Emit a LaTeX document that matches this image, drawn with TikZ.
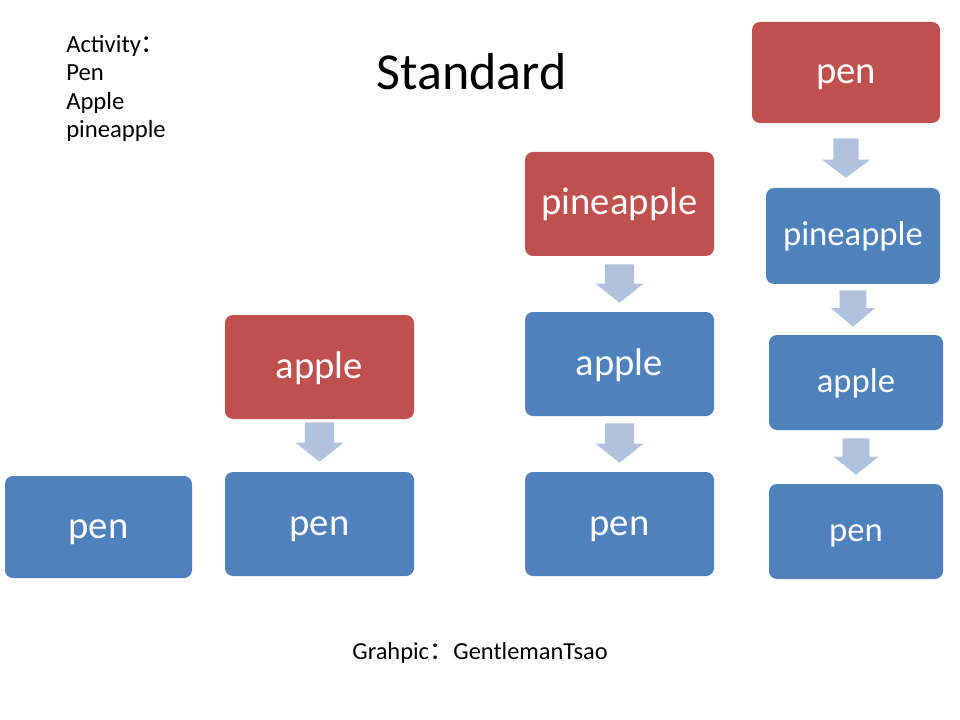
\documentclass[tikz,border=0pt]{standalone}
\usepackage{fontspec}
\setmainfont{Carlito}
\newfontfamily\cjk{Noto Sans CJK SC}
\usetikzlibrary{calc}
\definecolor{redbox}{HTML}{C0504D}
\definecolor{bluebox}{HTML}{4F81BD}
\definecolor{arrowc}{HTML}{B1C2DE}
\tikzset{
  box/.style={rectangle, rounded corners=6pt, inner sep=0pt, text=white,
    font=\fontsize{29}{34}\selectfont, text height=23.5pt, text depth=7pt},
  redb/.style={box, fill=redbox},
  blueb/.style={box, fill=bluebox},
  smalltext/.style={font=\fontsize{26}{30}\selectfont, text height=20.5pt, text depth=6.2pt},
  wideb/.style={minimum width=141.75pt, minimum height=78pt},
  lbl/.style={inner sep=0pt, anchor=base west, font=\fontsize{18.5}{21}\selectfont}
}
% from, to, gap top, gap bottom, shaft half width, head half width, head length
\newcommand\blockarr[7]{%
  \fill[arrowc] let \p1=($(#1.south)+(0pt,-#3)$), \p2=($(#2.north)+(0pt,#4)$) in
    (\x1-#5,\y1) -- (\x1+#5,\y1) -- (\x1+#5,\y2+#7) -- (\x1+#6,\y2+#7) --
    (\x1,\y2) -- (\x1-#6,\y2+#7) -- (\x1-#5,\y2+#7) -- cycle;}
\begin{document}
\begin{tikzpicture}[x=0.75pt,y=-0.75pt]
\useasboundingbox (0,0) rectangle (960,720);
\fill[white] (0,0) rectangle (960,720);

% texts
\node[lbl] (act) at (66,53) {Activity{\cjk ：}};
\node[lbl] (l1) at (66,81) {Pen};
\node[lbl] (l2) at (66,110) {Apple};
\node[lbl] (l3) at (66,138) {pineapple};
\node[inner sep=0pt, anchor=base, font=\fontsize{39}{44}\selectfont] (title) at (471.5,90) {Standard};
\node[inner sep=0pt, anchor=base, font=\fontsize{18.3}{21}\selectfont] (credit) at (480,659) {Grahpic{\cjk ：}GentlemanTsao};

% column 1
\node[blueb, minimum width=140.25pt, minimum height=76.5pt] (c1pen) at (98.5,527) {pen};

% column 2
\node[redb, wideb] (c2apple) at (319.5,367) {apple};
\node[blueb, wideb] (c2pen) at (319.5,524) {pen};

% column 3
\node[redb, wideb] (c3pine) at (619.5,204) {pineapple};
\node[blueb, wideb] (c3apple) at (619.5,364) {apple};
\node[blueb, wideb] (c3pen) at (619.5,524) {pen};

% column 4
\node[redb, minimum width=141pt, minimum height=75.75pt] (c4pen) at (846,72.5) {pen};
\node[blueb, smalltext, minimum width=130.5pt, minimum height=72pt] (c4pine) at (853,236) {pineapple};
\node[blueb, smalltext, minimum width=130.5pt, minimum height=71.25pt] (c4apple) at (856,382.5) {apple};
\node[blueb, smalltext, minimum width=130.5pt, minimum height=71.25pt] (c4penb) at (856,531.5) {pen};

% arrows
\blockarr{c2apple}{c2pen}{2.25pt}{7.5pt}{10.9pt}{18pt}{14.25pt}
\blockarr{c3pine}{c3apple}{6pt}{6.75pt}{10.9pt}{18pt}{14.25pt}
\blockarr{c3apple}{c3pen}{5.25pt}{6.75pt}{10.9pt}{18pt}{14.25pt}
\blockarr{c4pen}{c4pine}{11.25pt}{7.5pt}{9.4pt}{18pt}{13.5pt}
\blockarr{c4pine}{c4apple}{4.5pt}{6pt}{10pt}{16.5pt}{14pt}
\blockarr{c4apple}{c4penb}{6pt}{6.75pt}{10pt}{16.8pt}{13.5pt}
\end{tikzpicture}
\end{document}
